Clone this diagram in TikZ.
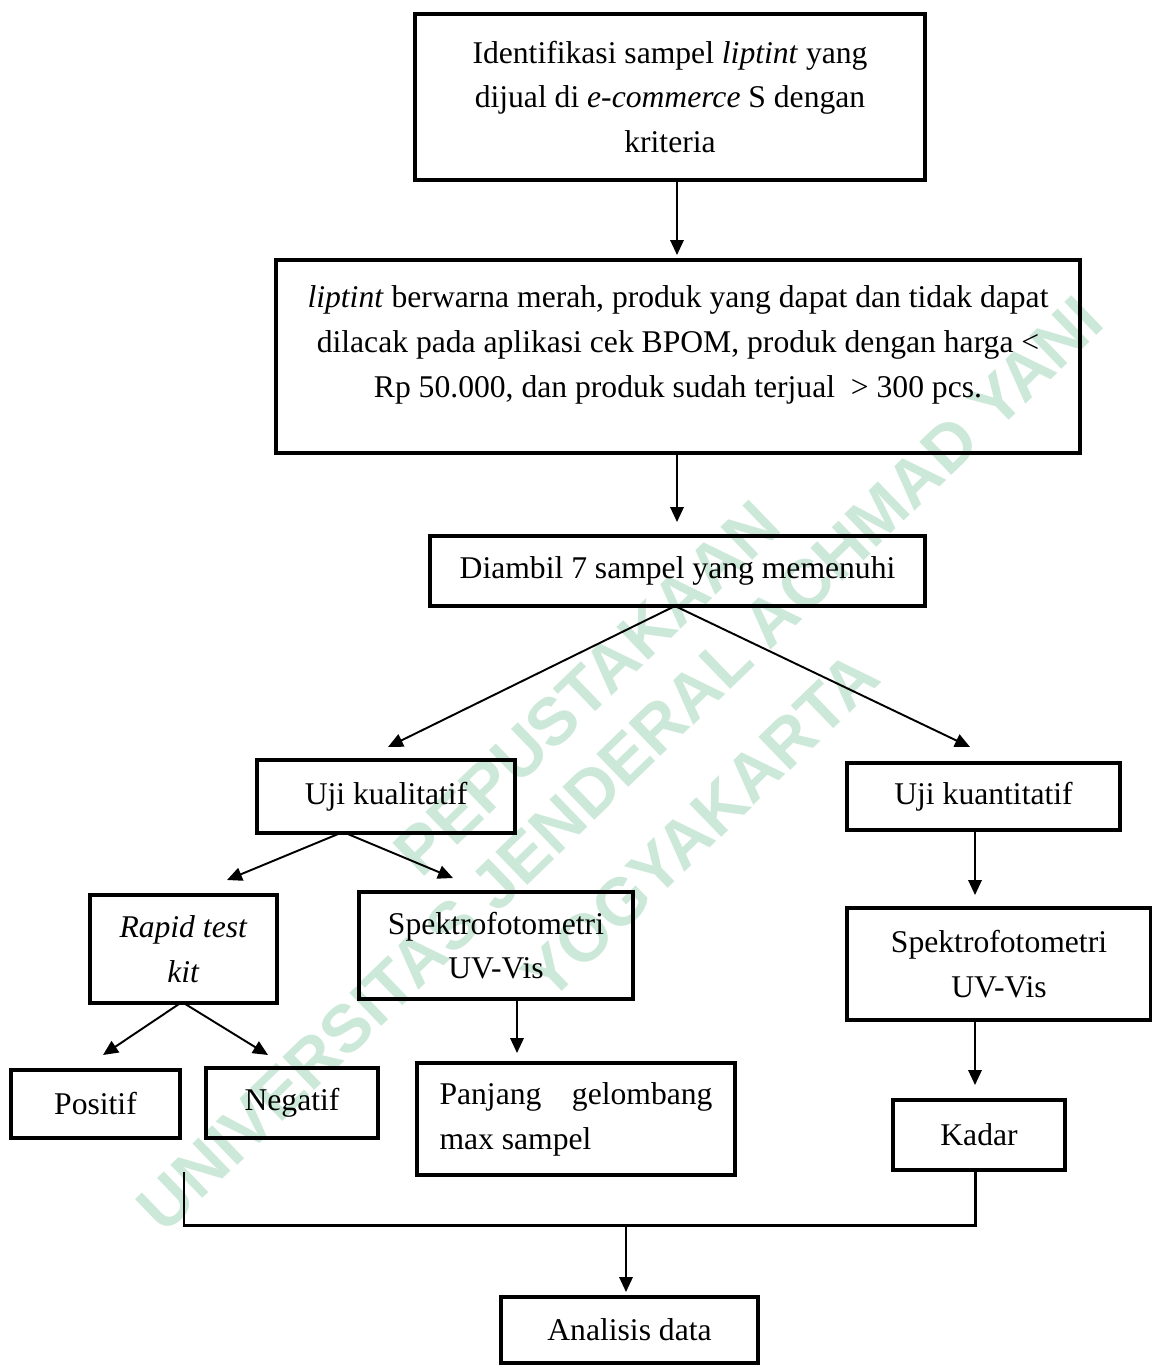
\documentclass[tikz,border=0pt]{standalone}
\usepackage{fontspec}
\setmainfont{Liberation Serif}
\newfontfamily\wmfont{Liberation Sans}
\usetikzlibrary{arrows.meta}
\definecolor{wmgreen}{RGB}{204,232,217}

\begin{document}
\begin{tikzpicture}[
    x=0.02cm, y=-0.02cm,
    stepbox/.style={draw, line width=2pt, inner sep=0pt, align=center,
        font=\fontsize{18}{25.5}\selectfont},
    flow/.style={-{Triangle[length=0.3cm, width=0.27cm]}, line width=1.1pt},
    joinline/.style={line width=1.7pt},
    wmtext/.style={text=wmgreen, rotate=44, inner sep=0pt,
        font=\wmfont\bfseries\fontsize{38}{40}\selectfont},
]
    \useasboundingbox (0,0) rectangle (1152,1365);

    % watermark
    \node[wmtext] (wm1) at (587,688) {PEPUSTAKAAN};
    \node[wmtext] (wm2) at (620,764) {UNIVERSITAS JENDERAL ACHMAD YANI};
    \node[wmtext] (wm3) at (700,826) {YOGYAKARTA};

    % boxes
    \node[stepbox, minimum width=10.2cm, minimum height=3.32cm] (ident) at (670,97)
        {Identifikasi sampel \emph{liptint} yang\\dijual di \emph{e-commerce} S dengan\\kriteria};
    \node[stepbox, minimum width=16.08cm, minimum height=3.86cm] (krit) at (678,356.5)
        {\emph{liptint} berwarna merah, produk yang dapat dan tidak dapat\\
         dilacak pada aplikasi cek BPOM, produk dengan harga <\\
         Rp 50.000, dan produk sudah terjual \ > 300 pcs.\rule[-0.6cm]{0pt}{0pt}};
    \node[stepbox, minimum width=9.9cm, minimum height=1.4cm] (ambil) at (677.5,571)
        {Diambil 7 sampel yang memenuhi};
    \node[stepbox, minimum width=5.16cm, minimum height=1.46cm] (kual) at (386,796.5)
        {Uji kualitatif};
    \node[stepbox, minimum width=5.46cm, minimum height=1.34cm] (kuan) at (983.5,796.5)
        {Uji kuantitatif};
    \node[stepbox, minimum width=3.74cm, minimum height=2.16cm] (rapid) at (183.5,949)
        {\emph{Rapid test}\\\emph{kit}};
    \node[stepbox, minimum width=5.48cm, minimum height=2.14cm] (spek) at (496,945.5)
        {Spektrofotometri\\UV-Vis};
    \node[stepbox, minimum width=6.08cm, minimum height=2.24cm] (kuanspek) at (999,964)
        {Spektrofotometri\\UV-Vis};
    \node[stepbox, minimum width=3.38cm, minimum height=1.36cm] (positif) at (95.5,1104)
        {Positif};
    \node[stepbox, minimum width=3.44cm, minimum height=1.4cm] (negatif) at (292,1103)
        {Negatif};
    \node[stepbox, minimum width=6.36cm, minimum height=2.24cm, align=left] (panjang) at (576,1119)
        {\makebox[5.46cm][s]{Panjang gelombang}\\max sampel};
    \node[stepbox, minimum width=3.44cm, minimum height=1.4cm] (kadar) at (979,1135)
        {Kadar};
    \node[stepbox, minimum width=5.14cm, minimum height=1.32cm] (analisis) at (629.5,1330)
        {Analisis data};

    % arrow ends
    \coordinate (tKrit) at (677,255);
    \coordinate (tAmbil) at (677,522);
    \coordinate (ambilfork) at (675,606);
    \coordinate (tKual) at (388,747);
    \coordinate (tKuan) at (970,747);
    \coordinate (kualfork) at (343,832);
    \coordinate (tRapid) at (227,880);
    \coordinate (tSpek) at (453,878);
    \coordinate (rapidfork) at (182,1002);
    \coordinate (tPos) at (103,1055);
    \coordinate (tNeg) at (268,1055);
    \coordinate (spekout) at (517,999);
    \coordinate (tPanjang) at (517,1053);
    \coordinate (tKuanspek) at (975,895);
    \coordinate (tKadar) at (975,1085);
    \coordinate (brl) at (184,1172);
    \coordinate (mid) at (626,1225);
    \coordinate (tAnalisis) at (626,1292);

    \draw[flow] (ident.south -| tKrit) -- (tKrit);
    \draw[flow] (krit.south -| tAmbil) -- (tAmbil);
    \foreach \t in {tKual, tKuan}
        \draw[flow] (ambilfork) -- (\t);
    \foreach \t in {tRapid, tSpek}
        \draw[flow] (kualfork) -- (\t);
    \foreach \t in {tPos, tNeg}
        \draw[flow] (rapidfork) -- (\t);
    \draw[flow] (kuan.south -| tKuanspek) -- (tKuanspek);
    \draw[flow] (spekout) -- (tPanjang);
    \draw[flow] (kuanspek.south -| tKadar) -- (tKadar);

    \draw[joinline] (brl) |- (mid) -| (kadar.south -| tKadar);
    \draw[flow] (mid) -- (tAnalisis);
\end{tikzpicture}
\end{document}
